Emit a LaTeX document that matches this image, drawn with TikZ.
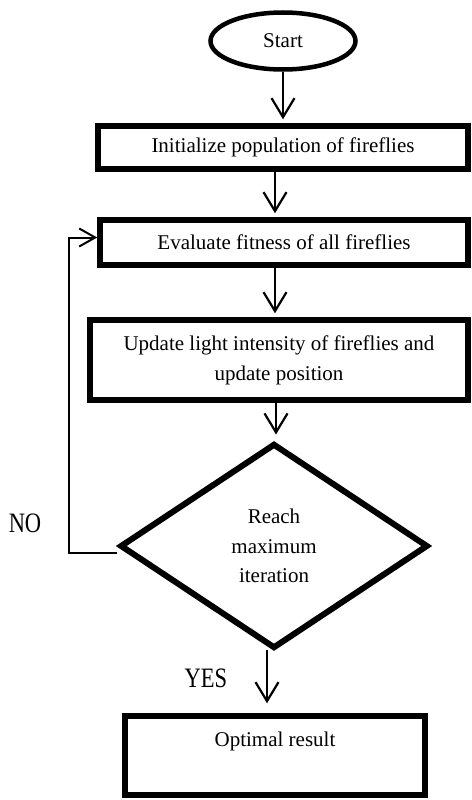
\documentclass[tikz,border=0pt]{standalone}
\usepackage{fontspec}
\setmainfont{Liberation Serif}
\usetikzlibrary{shapes.geometric,arrows.meta}
\tikzset{
  txt/.style={font=\fontsize{21}{30}\selectfont},
  box/.style={draw, line width=5.5pt, inner sep=0pt, align=center, txt},
  startshape/.style={draw, ellipse, line width=4.5pt, inner sep=0pt, txt},
  dec/.style={draw, diamond, line width=6pt, inner sep=0pt, align=center, font=\fontsize{21}{29.5}\selectfont},
  arr/.style={-{Straight Barb[length=19pt,width=23pt]}, line width=2.2pt},
  fb/.style={-{Straight Barb[length=16pt,width=18pt]}, line width=2pt},
  lab/.style={font=\fontsize{22.5}{26}\selectfont}
}
\begin{document}
\begin{tikzpicture}[x=1pt,y=-1pt]
\useasboundingbox (0,0) rectangle (471,800);
\node[startshape, minimum width=145pt, minimum height=57pt] (start) at (283,41) {Start};
\node[box, minimum width=370pt, minimum height=43pt] (init) at (283,147.5) {Initialize population of fireflies};
\node[box, minimum width=368pt, minimum height=45pt] (eval) at (284,242.5) {Evaluate fitness of all fireflies};
\node[box, minimum width=378pt, minimum height=80pt] (upd) at (279,360) {Update light intensity of fireflies and\\update position};
\node[dec, minimum width=308pt, minimum height=205pt] (dia) at (274,546) {Reach\\maximum\\iteration};
\node[box, minimum width=300pt, minimum height=79pt] (opt) at (275,755.5) {Optimal result\\[2pt]~};
\node[lab] (no) at (25,523) {\scalebox{1}[1.25]{NO}};
\node[lab] (yes) at (206,678) {\scalebox{1}[1.25]{YES}};
\draw[arr, shorten >=4pt] (start.south) -- (init.north);
\draw[arr, shorten >=4pt] ([xshift=-8pt]init.south) -- ([xshift=-8pt]init.south |- eval.north);
\draw[arr, shorten >=4pt] ([xshift=-9pt]eval.south) -- ([xshift=-9pt]eval.south |- upd.north);
\draw[arr, shorten >=6pt] ([xshift=-3pt]upd.south) -- ([xshift=-3pt]upd.south |- dia.north);
\draw[arr, shorten >=10pt, shorten <=-2pt] ([xshift=-7pt]dia.south) -- ([xshift=-7pt]dia.south |- opt.north);
\draw[fb] ([yshift=-7pt]dia.west) -- ++(-48,0) |- ([yshift=5pt]eval.west);
\end{tikzpicture}
\end{document}
